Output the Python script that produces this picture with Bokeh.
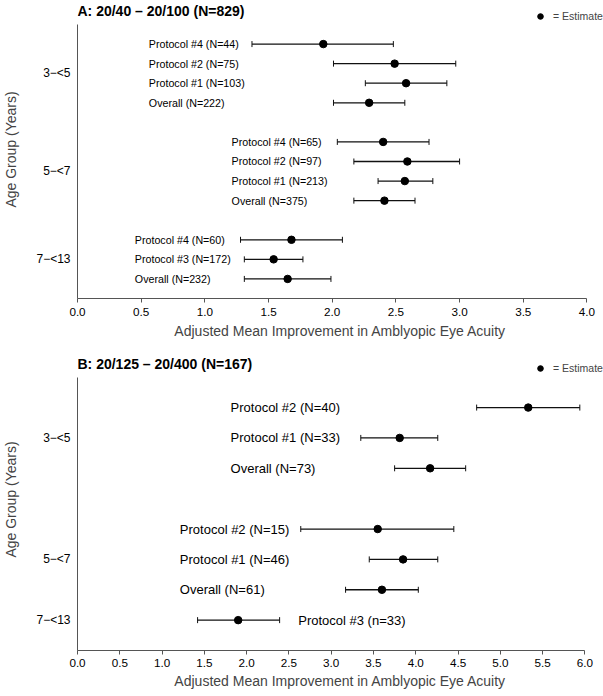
from bokeh.plotting import figure
from bokeh.models import (ColumnDataSource, Range1d, FixedTicker, PrintfTickFormatter,
                          Whisker, TeeHead, Legend, LegendItem, Label)
from bokeh.layouts import column
from bokeh.core.properties import value
from bokeh.embed import file_html
from bokeh.resources import INLINE

FONT = "Liberation Sans"

# ---------------- data ----------------
X_TITLE = "Adjusted Mean Improvement in Amblyopic Eye Acuity"
Y_TITLE = "Age Group (Years)"
LEGEND_TEXT = "= Estimate"

# Panel A
A_TITLE = "A: 20/40 – 20/100 (N=829)"
A_GROUP = ["3−<5"] * 4 + ["5−<7"] * 4 + ["7−<13"] * 3
A_LABELS = ["Protocol #4 (N=44)", "Protocol #2 (N=75)", "Protocol #1 (N=103)", "Overall (N=222)",
            "Protocol #4 (N=65)", "Protocol #2 (N=97)", "Protocol #1 (N=213)", "Overall (N=375)",
            "Protocol #4 (N=60)", "Protocol #3 (N=172)", "Overall (N=232)"]
A_ROW = [1, 2, 3, 4, 6, 7, 8, 9, 11, 12, 13]
A_EST = [1.93, 2.49, 2.58, 2.29, 2.40, 2.59, 2.57, 2.41, 1.68, 1.54, 1.65]
A_LO = [1.37, 2.01, 2.26, 2.01, 2.04, 2.17, 2.36, 2.17, 1.28, 1.31, 1.31]
A_HI = [2.48, 2.97, 2.90, 2.57, 2.76, 3.00, 2.79, 2.65, 2.08, 1.77, 1.99]
A_XTICKS = [0.0, 0.5, 1.0, 1.5, 2.0, 2.5, 3.0, 3.5, 4.0]

# Panel B
B_TITLE = "B: 20/125 – 20/400 (N=167)"
B_GROUP = ["3−<5"] * 3 + ["5−<7"] * 3 + ["7−<13"]
B_LABELS = ["Protocol #2 (N=40)", "Protocol #1 (N=33)", "Overall (N=73)",
            "Protocol #2 (N=15)", "Protocol #1 (N=46)", "Overall (N=61)",
            "Protocol #3 (n=33)"]
B_ROW = [1, 2, 3, 5, 6, 7, 8]
B_EST = [5.33, 3.81, 4.17, 3.55, 3.85, 3.60, 1.90]
B_LO = [4.72, 3.35, 3.75, 2.64, 3.45, 3.17, 1.42]
B_HI = [5.94, 4.26, 4.59, 4.45, 4.26, 4.03, 2.39]
B_XTICKS = [0.0, 0.5, 1.0, 1.5, 2.0, 2.5, 3.0, 3.5, 4.0, 4.5, 5.0, 5.5, 6.0]

# ---------------- layout (not data) ----------------
LAYOUT_A = dict(height=348, border_bottom=50, x_end=4.13, y_end=-1.226, y_start=14,
                axis_bounds=(0, 14), label_size="10.7px",
                label_x={"3−<5": 0.56, "5−<7": 1.21, "7−<13": 0.45},
                title_y=-0.679, legend_loc=(456, 275), s1=5, s2=4)
LAYOUT_B = dict(height=348, border_bottom=46, x_end=6.22, y_end=-0.945, y_start=9,
                axis_bounds=(0, 9), label_size="13px",
                label_x={"3−<5": 1.81, "5−<7": 1.21, "7−<13": 2.61},
                title_y=-0.441, legend_loc=(456, 275), s1=4, s2=3)


def make_panel(title, groups, labels, rows, est, lo, hi, xticks, L):
    xmax = xticks[-1]
    p = figure(width=603, height=L["height"], output_backend="svg", toolbar_location=None,
               title=None, x_range=Range1d(0, L["x_end"]),
               y_range=Range1d(L["y_start"], L["y_end"]),
               min_border_left=71, min_border_right=0, min_border_top=0,
               min_border_bottom=L["border_bottom"])
    p.outline_line_color = None
    p.xgrid.visible = False
    p.ygrid.visible = False
    p.background_fill_color = "white"

    src = ColumnDataSource(dict(
        row=rows, est=est, lo=lo, hi=hi, label=labels,
        lx=[L["label_x"][g] for g in groups]))

    wh = Whisker(source=src, base="row", lower="lo", upper="hi", dimension="width",
                 line_color="#111111", line_width=1.3, level="underlay",
                 lower_head=TeeHead(size=6, line_color="#111111", line_width=1),
                 upper_head=TeeHead(size=6, line_color="#111111", line_width=1))
    p.add_layout(wh)
    dots = p.scatter(x="est", y="row", source=src, size=7.5, color="black")
    p.text(x="lx", y="row", text="label", source=src, text_baseline="middle",
           text_align="left", text_font=value(FONT), text_font_size=value(L["label_size"]),
           text_color="black")

    # group tick labels at group centres
    centers = {}
    for g, r in zip(groups, rows):
        centers.setdefault(g, []).append(r)
    ticks = {sum(v) / len(v): g for g, v in centers.items()}

    xa = p.xaxis[0]
    xa.ticker = FixedTicker(ticks=xticks)
    xa.formatter = PrintfTickFormatter(format="%.1f")
    xa.bounds = (0, xmax)
    xa.axis_line_color = "#555555"
    xa.major_tick_line_color = "#555555"
    xa.major_tick_out = 4
    xa.major_tick_in = 0
    xa.minor_tick_line_color = None
    xa.major_label_standoff = L["s1"]
    xa.major_label_text_font = FONT
    xa.major_label_text_font_size = "11.7px"
    xa.major_label_text_color = "black"
    xa.axis_label = X_TITLE
    xa.axis_label_text_font = FONT
    xa.axis_label_text_font_size = "14px"
    xa.axis_label_text_font_style = "normal"
    xa.axis_label_standoff = L["s2"]

    ya = p.yaxis[0]
    ya.ticker = FixedTicker(ticks=list(ticks.keys()))
    ya.major_label_overrides = ticks
    ya.bounds = L["axis_bounds"]
    ya.axis_line_color = "#555555"
    ya.major_tick_line_color = None
    ya.major_tick_out = 0
    ya.major_tick_in = 0
    ya.minor_tick_line_color = None
    ya.major_label_standoff = 7
    ya.major_label_text_font = FONT
    ya.major_label_text_font_size = "12px"
    ya.major_label_text_color = "black"
    ya.axis_label = Y_TITLE
    ya.axis_label_text_font = FONT
    ya.axis_label_text_font_size = "14px"
    ya.axis_label_text_font_style = "normal"
    ya.axis_label_standoff = 14

    p.add_layout(Label(x=0, y=L["title_y"], text=title, text_font=FONT,
                       text_font_size="14px", text_font_style="bold",
                       text_baseline="middle", text_align="left", text_color="black"))

    legend = Legend(items=[LegendItem(label=LEGEND_TEXT, renderers=[dots])],
                    location=L["legend_loc"], padding=0, margin=0, spacing=0,
                    border_line_color=None, background_fill_alpha=0,
                    glyph_width=14, glyph_height=14, label_height=14, label_width=10,
                    label_standoff=6, label_text_font=FONT, label_text_font_size="10.5px")
    p.add_layout(legend)
    return p


pa = make_panel(A_TITLE, A_GROUP, A_LABELS, A_ROW, A_EST, A_LO, A_HI, A_XTICKS, LAYOUT_A)
pb = make_panel(B_TITLE, B_GROUP, B_LABELS, B_ROW, B_EST, B_LO, B_HI, B_XTICKS, LAYOUT_B)

layout = column(pa, pb, spacing=0)
open("out.html", "w").write(file_html(layout, INLINE))
